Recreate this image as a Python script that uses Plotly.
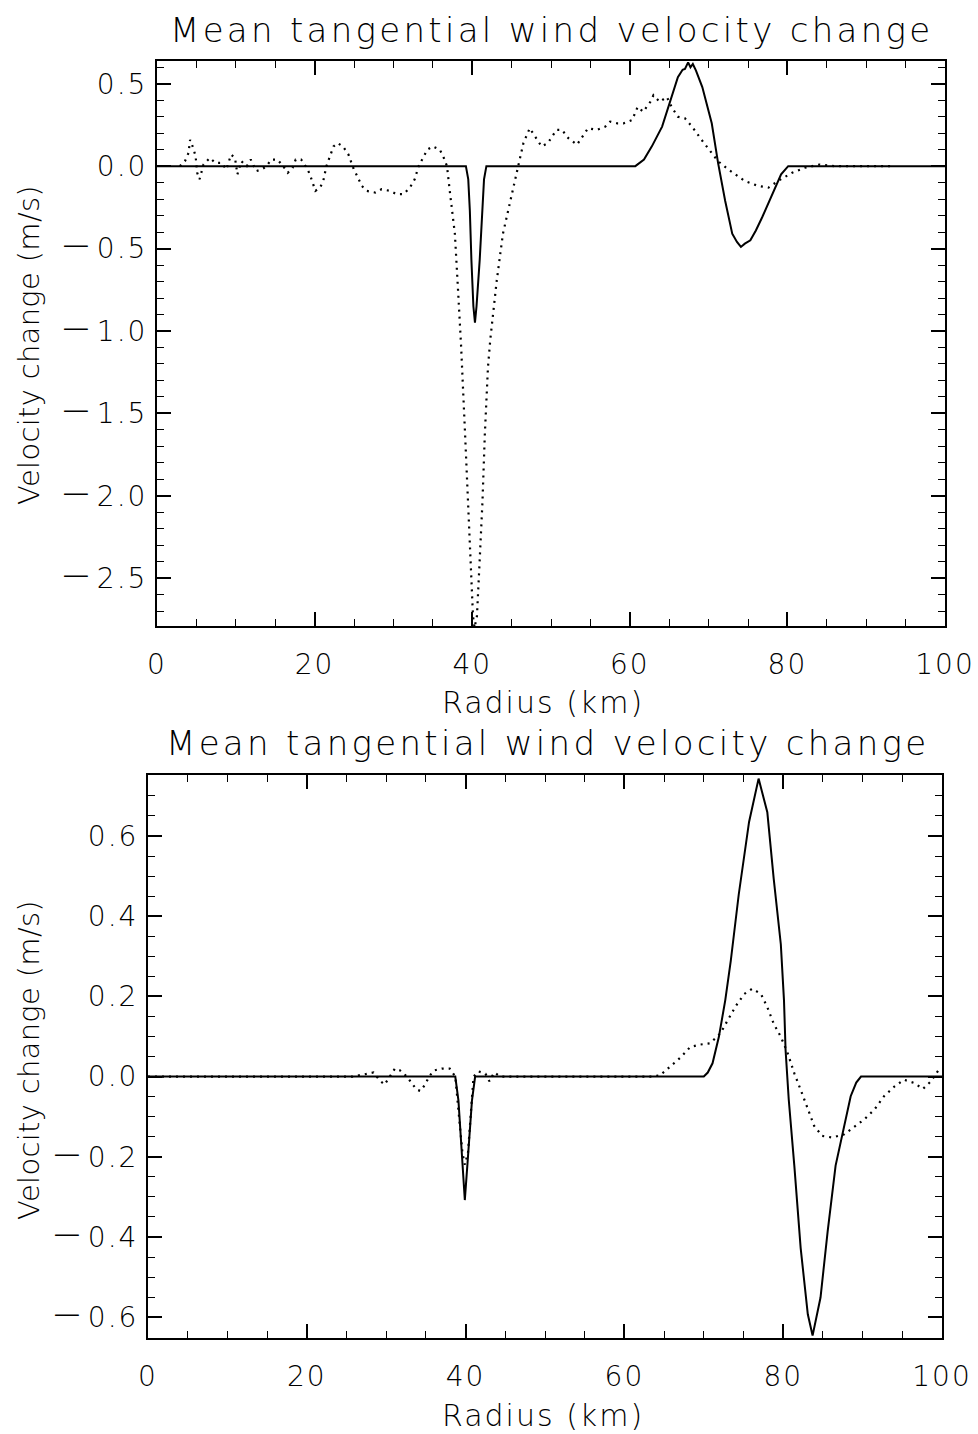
import plotly.graph_objects as go

# ---------------- data ----------------
top_solid_r = [0, 39.2, 39.5, 39.7, 39.9, 40.15, 40.35, 40.55, 40.95, 41.25, 41.5, 41.8,
               60.7, 61.8, 62.8, 64.1, 65.3, 66.1, 66.7, 67.0, 67.4, 67.7, 68.0, 68.4,
               69.2, 70.4, 71.2, 72.1, 73.0, 73.6, 74.1, 74.6, 75.3, 76.0, 76.8, 77.6,
               78.4, 79.2, 80.1, 100]
top_solid_v = [0, 0, -0.08, -0.27, -0.57, -0.85, -0.95, -0.85, -0.57, -0.27, -0.08, 0,
               0, 0.04, 0.12, 0.24, 0.42, 0.54, 0.585, 0.59, 0.63, 0.60, 0.62, 0.58,
               0.48, 0.26, 0.02, -0.21, -0.41, -0.46, -0.49, -0.47, -0.45, -0.39, -0.31, -0.22,
               -0.13, -0.05, 0, 0]

top_dot_r = [2.9, 3.55, 4.0, 4.2, 4.6, 4.9, 5.1, 5.4, 5.9, 6.7, 7.4, 8.2, 8.8, 9.4, 9.9,
             10.2, 10.7, 11.4, 11.9, 12.6, 13.3, 13.9, 14.5, 15.3, 16.0, 16.6, 17.2, 17.6,
             18.3, 19.0, 19.4, 19.8, 20.1, 20.7, 21.1, 21.5, 22.0, 22.4, 22.9, 23.6, 24.3,
             24.9, 25.5, 26.0, 26.6, 27.7, 28.5, 29.6, 30.4, 31.3, 32.1, 32.7, 33.2, 33.8,
             34.3, 35.0, 35.9, 36.4, 36.8, 37.2, 37.8, 38.2, 38.6, 39.1, 39.5, 39.8, 40.1,
             40.3, 40.6, 40.9, 41.3, 41.6, 42.0, 42.3, 43.1, 43.9, 45.0, 45.8, 46.5, 47.3,
             48.2, 48.8, 49.6, 50.7, 51.4, 52.2, 53.3, 53.9, 54.7, 55.8, 56.9, 57.5, 58.4,
             59.2, 60.3, 61.0, 61.7, 62.6, 63.0, 63.8, 64.7, 65.3, 66.1, 67.0, 67.9, 69.1,
             70.4, 71.2, 72.5, 74.6, 76.3, 77.6, 78.8, 80.6, 82.2, 84.1, 86.0, 93.5]
top_dot_v = [0, 0.03, 0.08, 0.16, 0.11, 0.06, -0.04, -0.08, 0.01, 0.05, 0.02, 0.02, -0.02, 0.07, 0.05,
             -0.05, 0.03, 0.0, 0.04, -0.03, -0.02, 0.0, 0.04, 0.04, 0.0, -0.04, -0.01, 0.04,
             0.04, -0.01, -0.05, -0.10, -0.15, -0.13, -0.09, 0.0, 0.07, 0.12, 0.14, 0.12, 0.07,
             -0.01, -0.07, -0.12, -0.15, -0.16, -0.14, -0.15, -0.17, -0.17, -0.13, -0.08, 0.0, 0.06,
             0.10, 0.12, 0.10, 0.05, 0.0, -0.17, -0.41, -0.75, -1.10, -1.63, -2.04, -2.44, -2.73,
             -2.80, -2.73, -2.44, -2.04, -1.63, -1.22, -1.05, -0.70, -0.41, -0.17, 0.0, 0.14, 0.23,
             0.16, 0.12, 0.14, 0.22, 0.22, 0.17, 0.13, 0.17, 0.23, 0.22, 0.24, 0.27, 0.26,
             0.26, 0.28, 0.36, 0.33, 0.39, 0.43, 0.39, 0.42, 0.36, 0.30, 0.29, 0.24, 0.16,
             0.08, 0.03, -0.02, -0.09, -0.12, -0.13, -0.09, -0.04, -0.01, 0.01, 0.0, 0.0]

bot_solid_r = [0, 38.7, 39.1, 39.5, 39.9, 40.3, 40.8, 41.2, 70.0, 70.5, 71.1, 71.9, 72.7,
               73.4, 74.4, 75.7, 76.9, 78.0, 78.8, 79.7, 80.1, 80.3, 80.7, 81.4, 82.2,
               83.1, 83.7, 84.7, 85.6, 86.6, 87.5, 88.5, 89.2, 89.8, 100]
bot_solid_v = [0, 0, -0.06, -0.20, -0.308, -0.20, -0.06, 0, 0, 0.01, 0.033, 0.099, 0.19,
               0.289, 0.454, 0.635, 0.743, 0.659, 0.494, 0.33, 0.19, 0.066, -0.058, -0.222, -0.428,
               -0.593, -0.646, -0.551, -0.386, -0.222, -0.14, -0.049, -0.015, 0, 0]

bot_dot_r = [0, 25.8, 28.4, 29.2, 29.8, 30.4, 31.1, 31.7, 32.6, 33.2, 33.8, 34.3, 34.9, 35.4,
             36.0, 37.0, 38.0, 38.7, 39.2, 39.6, 39.9, 40.3, 40.7, 41.0, 41.6, 42.5, 43.0,
             43.6, 44.4, 63.3, 64.5, 65.8, 67.1, 68.3, 69.6, 70.8, 72.1, 73.0, 74.0, 75.1,
             76.1, 77.2, 78.0, 78.8, 79.7, 80.5, 81.4, 82.2, 83.1, 83.9, 84.9, 86.2, 87.7,
             88.9, 90.2, 91.5, 92.7, 94.0, 95.2, 96.5, 97.6, 98.6, 99.7]
bot_dot_v = [0, 0, 0.01, -0.01, -0.02, 0.0, 0.02, 0.016, 0, -0.016, -0.032, -0.036, -0.02, 0,
             0.015, 0.02, 0.02, 0, -0.10, -0.19, -0.22, -0.19, -0.08, 0, 0.013, 0.007, -0.012,
             0.01, 0, 0, 0.003, 0.025, 0.048, 0.074, 0.08, 0.083, 0.108, 0.14, 0.175, 0.206,
             0.219, 0.206, 0.173, 0.132, 0.099, 0.062, 0.008, -0.033, -0.082, -0.123, -0.148, -0.152, -0.144,
             -0.127, -0.107, -0.082, -0.049, -0.025, -0.008, -0.016, -0.031, -0.012, 0.02]

x_ticks = [0, 20, 40, 60, 80, 100]
x_tick_labels = ["0", "20", "40", "60", "80", "100"]
top_y_ticks = [0.5, 0.0, -0.5, -1.0, -1.5, -2.0, -2.5]
top_y_labels = ["0.5", "0.0", "−0.5", "−1.0", "−1.5", "−2.0", "−2.5"]
bot_y_ticks = [0.6, 0.4, 0.2, 0.0, -0.2, -0.4, -0.6]
bot_y_labels = ["0.6", "0.4", "0.2", "0.0", "−0.2", "−0.4", "−0.6"]

title_text = "Mean tangential wind velocity change"
x_title = "Radius (km)"
y_title = "Velocity change (m/s)"

# ---------------- figure ----------------
W, H = 978, 1434
FONT = "DejaVu Sans"
WEIGHT = 200


def spaced(s, ls):
    return '<span style="letter-spacing:%spx">%s</span>' % (ls, s)


def tick_label(s):
    # wide minus sign followed by a gap, as in the reference
    if s.startswith("−"):
        return ('<span style="font-size:38px;letter-spacing:5px">−</span>'
                '<span style="letter-spacing:2px">%s</span>' % s[1:])
    return spaced(s, 2)


fig = go.Figure()
solid = dict(color="black", width=2)
dotted = dict(color="black", width=2.2, dash="2px,5px")

fig.add_trace(go.Scatter(x=top_dot_r, y=top_dot_v, mode="lines", line=dotted, xaxis="x", yaxis="y"))
fig.add_trace(go.Scatter(x=top_solid_r, y=top_solid_v, mode="lines", line=solid, xaxis="x", yaxis="y"))
fig.add_trace(go.Scatter(x=bot_dot_r, y=bot_dot_v, mode="lines", line=dotted, xaxis="x2", yaxis="y2"))
fig.add_trace(go.Scatter(x=bot_solid_r, y=bot_solid_v, mode="lines", line=solid, xaxis="x2", yaxis="y2"))


def px(v):
    return v / W


def py(v):
    return 1 - v / H


tickfont = dict(family=FONT, size=28, color="black", weight=WEIGHT)
common_x = dict(range=[0, 100], tickvals=x_ticks, ticktext=[spaced(t, 2) for t in x_tick_labels],
                ticks="inside", ticklen=14, tickwidth=1.5,
                tickcolor="black", showline=True, linecolor="black", linewidth=2, mirror="ticks",
                showgrid=False, zeroline=False, automargin=False,
                tickfont=tickfont, ticklabelstandoff=12,
                minor=dict(dtick=5, ticks="inside", ticklen=7, tickwidth=1.2, tickcolor="black",
                           showgrid=False))
common_y = dict(ticks="inside", ticklen=14, tickwidth=1.5, tickcolor="black", showline=True,
                linecolor="black", linewidth=2, mirror="ticks", showgrid=False, zeroline=False,
                automargin=False, tickfont=tickfont, ticklabelstandoff=2)

fig.update_layout(
    width=W, height=H,
    margin=dict(l=0, r=0, t=0, b=0),
    paper_bgcolor="white", plot_bgcolor="white",
    showlegend=False,
    xaxis=dict(common_x, domain=[px(157), px(945)], anchor="y"),
    yaxis=dict(common_y, domain=[py(626), py(61)], anchor="x", range=[-2.79, 0.638],
               tickvals=top_y_ticks, ticktext=[tick_label(t) for t in top_y_labels],
               minor=dict(dtick=0.1, tick0=0, ticks="inside", ticklen=7, tickwidth=1.2,
                          tickcolor="black", showgrid=False)),
    xaxis2=dict(common_x, domain=[px(148), px(942)], anchor="y2"),
    yaxis2=dict(common_y, domain=[py(1338), py(775)], anchor="x2", range=[-0.652, 0.752],
                tickvals=bot_y_ticks, ticktext=[tick_label(t) for t in bot_y_labels],
                minor=dict(dtick=0.05, tick0=0, ticks="inside", ticklen=7, tickwidth=1.2,
                           tickcolor="black", showgrid=False)),
)

annots = [
    dict(text=title_text, x=px(552), y=py(30), size=34, angle=0, ls=3.3),
    dict(text=x_title, x=px(543), y=py(702), size=30, angle=0, ls=2),
    dict(text=y_title, x=px(29), y=py(345), size=29, angle=-90, ls=0.3),
    dict(text=title_text, x=px(548), y=py(743), size=34, angle=0, ls=3.3),
    dict(text=x_title, x=px(543), y=py(1415), size=30, angle=0, ls=2),
    dict(text=y_title, x=px(29), y=py(1060), size=29, angle=-90, ls=0.3),
]
for a in annots:
    fig.add_annotation(text=spaced(a["text"], a["ls"]), x=a["x"], y=a["y"], xref="paper", yref="paper",
                       xanchor="center", yanchor="middle", showarrow=False, textangle=a["angle"],
                       font=dict(family=FONT, size=a["size"], color="black", weight=WEIGHT))

fig.write_html("out.html")
